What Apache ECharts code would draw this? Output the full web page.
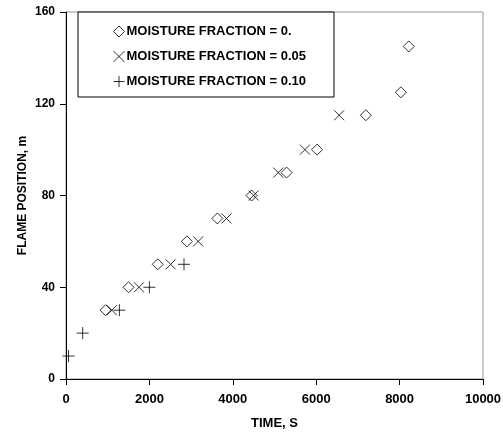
<!DOCTYPE html>
<html>
<head>
<meta charset="utf-8">
<script src="https://cdn.jsdelivr.net/npm/echarts@6/dist/echarts.min.js"></script>
<style>
  html, body { margin: 0; padding: 0; background: #fff; }
  #chart { width: 503px; height: 432px; }
</style>
</head>
<body>
<div id="chart"></div>
<script>
// ---- data ----
const seriesNames = ['MOISTURE FRACTION = 0.', 'MOISTURE FRACTION = 0.05', 'MOISTURE FRACTION = 0.10']

// moisture 0.
const dryTime = [950, 1500, 2200, 2900, 3630, 4450, 5290, 6020, 7190, 8030, 8220]
const dryPos = [30, 40, 50, 60, 70, 80, 90, 100, 115, 125, 145]

// moisture 0.05
const wetTime = [1100, 1750, 2510, 3170, 3850, 4500, 5090, 5730, 6550]
const wetPos = [30, 40, 50, 60, 70, 80, 90, 100, 115]

// moisture 0.10
const wettestTime = [60, 400, 1280, 2000, 2830]
const wettestPos = [10, 20, 30, 40, 50]

const xTicks = { min: 0, max: 10000, interval: 2000 }
const yTicks = { min: 0, max: 160, interval: 40 }

// ---- marker shapes ----
const DIAMOND = 'path://M5,0 L10,5 L5,10 L0,5 Z'
const CROSS = 'path://M0,0 L10,10 M10,0 L0,10'
const PLUS = 'path://M5,0 L5,10 M0,5 L10,5'

const FONT = 'Liberation Sans, Arial, sans-serif'
const hollow = { color: 'rgba(255,255,255,0)', borderColor: '#000', borderWidth: 1 }

function pairs(xs, ys) {
  return xs.map((x, i) => [x, ys[i]])
}

function scatter(name, symbol, size, data) {
  return {
    name,
    type: 'scatter',
    symbol,
    symbolSize: size,
    data,
    itemStyle: hollow,
    emphasis: { disabled: true },
    animation: false,
  }
}

const chart = echarts.init(document.getElementById('chart'), null, { renderer: 'canvas' })

chart.setOption({
  backgroundColor: '#fff',
  textStyle: { fontFamily: FONT },
  grid: {
    left: 66, right: 20, top: 12, bottom: 53,
    outerBoundsMode: 'none',
    show: true, borderColor: '#999', borderWidth: 1, backgroundColor: 'transparent',
  },
  legend: {
    orient: 'vertical',
    left: 78,
    top: 12,
    padding: [13, 28, 9, 35],
    itemGap: 12,
    itemWidth: 11,
    itemHeight: 11,
    borderColor: '#000',
    borderWidth: 1,
    backgroundColor: '#fff',
    selectedMode: false,
    textStyle: { fontFamily: FONT, fontWeight: 'bold', fontSize: 13, color: '#000', padding: [0, 0, 0, -3] },
    data: [
      { name: seriesNames[0], icon: DIAMOND, itemStyle: hollow },
      { name: seriesNames[1], icon: CROSS, itemStyle: hollow },
      { name: seriesNames[2], icon: PLUS, itemStyle: hollow },
    ],
  },
  xAxis: {
    type: 'value',
    ...xTicks,
    name: 'TIME, S',
    nameLocation: 'middle',
    nameGap: 38,
    nameMoveOverlap: false,
    nameTextStyle: { fontFamily: FONT, fontWeight: 'bold', fontSize: 13, color: '#000' },
    axisLine: { show: true, lineStyle: { color: '#000', width: 1 } },
    axisTick: { show: true, inside: false, length: 6, lineStyle: { color: '#000' } },
    axisLabel: {
      fontFamily: FONT, fontWeight: 'bold', fontSize: 13, color: '#000', margin: 14,
      formatter: (v) => String(v),
    },
    splitLine: { show: false },
  },
  yAxis: {
    type: 'value',
    ...yTicks,
    name: 'FLAME POSITION, m',
    nameLocation: 'middle',
    nameRotate: 90,
    nameGap: 37,
    nameMoveOverlap: false,
    nameTextStyle: { fontFamily: FONT, fontWeight: 'bold', fontSize: 12, color: '#000' },
    axisLine: { show: true, lineStyle: { color: '#000', width: 1 } },
    axisTick: { show: true, inside: false, length: 6, lineStyle: { color: '#000' } },
    axisLabel: {
      fontFamily: FONT, fontWeight: 'bold', fontSize: 12, color: '#000', margin: 11,
      formatter: (v) => String(v),
    },
    splitLine: { show: false },
  },
  series: [
    scatter(seriesNames[0], DIAMOND, 11, pairs(dryTime, dryPos)),
    scatter(seriesNames[1], CROSS, 10, pairs(wetTime, wetPos)),
    scatter(seriesNames[2], PLUS, 12, pairs(wettestTime, wettestPos)),
  ],
})
</script>
</body>
</html>
